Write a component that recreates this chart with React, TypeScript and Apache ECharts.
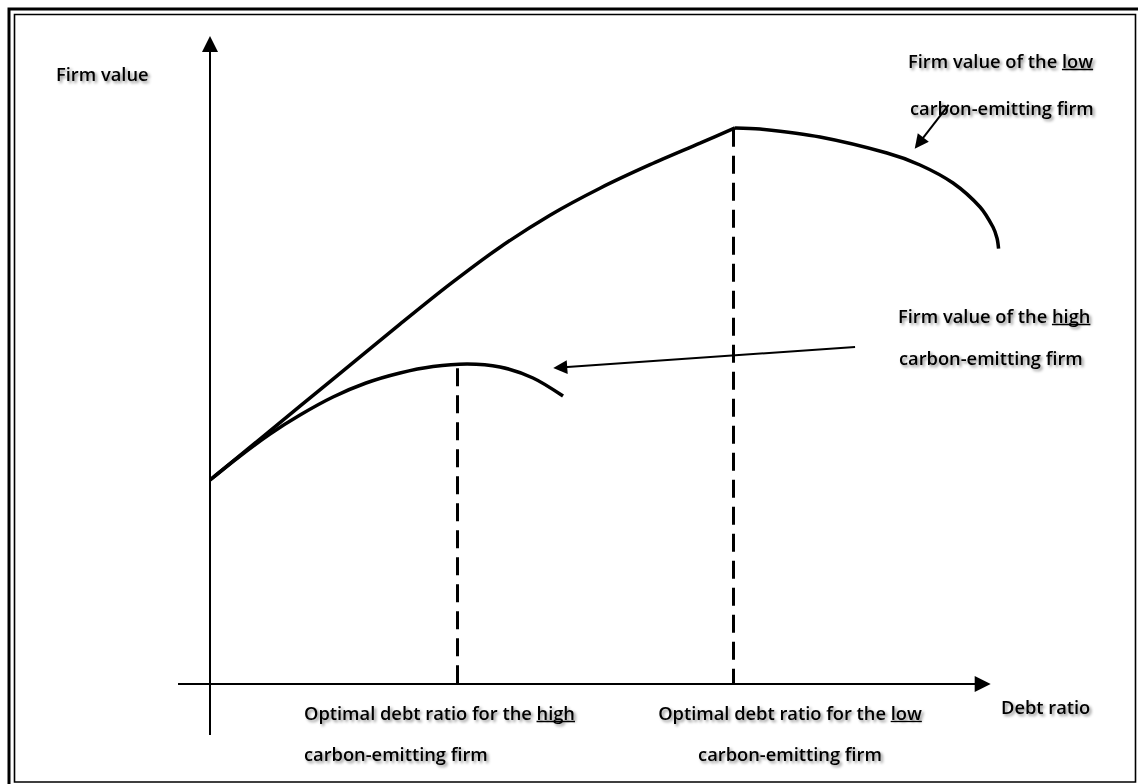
import React, { useEffect, useRef } from "react";
import * as echarts from "echarts";

// ---- data (debt ratio 0..100, firm value 0..100, conceptual units) ----
const lowRisingDebt = [0, 7.69, 15.38, 24.36, 30.77, 37.18, 43.59, 50.0, 56.41, 62.82, 67.31];
const lowRisingValue = [31.53, 39.13, 46.74, 55.61, 61.79, 67.51, 72.46, 76.63, 80.26, 83.59, 85.94];
const lowFallingDebt = [67.31, 70.51, 78.21, 86.79, 91.03, 95.26, 98.72, 100.38, 100.9, 101.1];
const lowFallingValue = [85.94, 85.78, 84.54, 82.07, 80.22, 77.43, 73.72, 70.63, 68.9, 67.3];
const highDebt = [0, 3.85, 7.69, 11.54, 15.77, 20.0, 24.36, 28.59, 32.95, 37.18, 41.41, 45.26];
const highValue = [31.53, 35.24, 38.64, 41.58, 44.36, 46.52, 48.07, 49.07, 49.46, 49.0, 47.3, 44.51];

const optimalHighDebt = 31.67;
const optimalHighTop = 48.8;
const optimalLowDebt = 67.1;
const optimalLowTop = 85.8;

const yAxisFrom = [0, -7.9];
const yAxisTo = [0, 98.9];
const xAxisFrom = [-4.1, 0];
const xAxisTo = [99.06, 0];

const highArrowFrom = [82.7, 52.1];
const highArrowTo = [44.9, 48.9];
const lowArrowFrom = [94.7, 89.5];
const lowArrowTo = [90.9, 83.6];

const X_MAX = 102;
const FAMILY = `"Open Sans", Lato, sans-serif`;
const WEIGHT = 600;
const TARGET_W = 184; // width of "carbon-emitting firm"

function zip(xs: number[], ys: number[]) {
  return xs.map((x, i) => [x, ys[i]]);
}

let ctx: CanvasRenderingContext2D | null = null;
function measure(text: string, font: string) {
  if (!ctx) ctx = document.createElement("canvas").getContext("2d");
  ctx!.font = font;
  return ctx!.measureText(text).width;
}

export default function App() {
  const ref = useRef<HTMLDivElement>(null);

  useEffect(() => {
    if (!ref.current) return;
    document.body.style.margin = "0";
    const chart = echarts.init(ref.current, undefined, { renderer: "svg" });

    const w17 = measure("carbon-emitting firm", `${WEIGHT} 17px ${FAMILY}`);
    const fs = Math.round(((17 * TARGET_W) / w17) * 10) / 10;
    const FONT = `${WEIGHT} ${fs}px ${FAMILY}`;

    const textStyleBase = {
      font: FONT,
      fill: "#000",
      textShadowColor: "rgba(0,0,0,0.45)",
      textShadowBlur: 3,
      textShadowOffsetX: 2,
      textShadowOffsetY: 2,
      verticalAlign: "middle",
    };

    const label = (x: number, y: number, prefix: string, word = "", center = false) => {
      const els: any[] = [];
      const full = prefix + word;
      const total = measure(full, FONT);
      const left = center ? x - total / 2 : x;
      els.push({
        type: "text",
        x: left,
        y,
        silent: true,
        style: { ...textStyleBase, text: full, align: "left" },
      });
      if (word) {
        const w1 = measure(prefix, FONT);
        const w2 = measure(word, FONT);
        els.push({
          type: "line",
          silent: true,
          shape: { x1: left + w1, y1: y + 9.5, x2: left + w1 + w2, y2: y + 9.5 },
          style: { stroke: "#000", lineWidth: 1.3 },
        });
      }
      return els;
    };

    const graphics: any[] = [
      {
        type: "rect",
        silent: true,
        shape: { x: 9, y: 9, width: 1145, height: 795 },
        style: { fill: "none", stroke: "#000", lineWidth: 3 },
      },
      {
        type: "rect",
        silent: true,
        shape: { x: 14.5, y: 14.5, width: 1121, height: 767.5 },
        style: { fill: "none", stroke: "#000", lineWidth: 1.6 },
      },
      ...label(56, 73, "Firm value"),
      ...label(908, 60, "Firm value of the ", "low"),
      ...label(910, 107, "carbon-emitting firm"),
      ...label(898, 315, "Firm value of the ", "high"),
      ...label(899, 357, "carbon-emitting firm"),
      ...label(304, 712, "Optimal debt ratio for the ", "high"),
      ...label(304, 753, "carbon-emitting firm"),
      ...label(790, 712, "Optimal debt ratio for the ", "low", true),
      ...label(790, 753, "carbon-emitting firm", "", true),
      ...label(1001, 706, "Debt ratio"),
    ];

    const curveStyle = { color: "#000", width: 3.5 };
    // 7.8 px per debt-ratio unit, starting at x = 210
    const gridRight = 1138 - 210 - X_MAX * 7.8;

    chart.setOption({
      animation: false,
      grid: { left: 210, top: 37, right: gridRight, bottom: 100 },
      xAxis: { type: "value", min: 0, max: X_MAX, show: false },
      yAxis: { type: "value", min: 0, max: 100, show: false },
      tooltip: { show: false },
      series: [
        {
          type: "line",
          name: "Low rising",
          data: zip(lowRisingDebt, lowRisingValue),
          smooth: 0.3,
          showSymbol: false,
          clip: false,
          silent: true,
          lineStyle: curveStyle,
        },
        {
          type: "line",
          name: "Low falling",
          data: zip(lowFallingDebt, lowFallingValue),
          smooth: 0.3,
          showSymbol: false,
          clip: false,
          silent: true,
          lineStyle: curveStyle,
        },
        {
          type: "line",
          name: "High",
          data: zip(highDebt, highValue),
          smooth: 0.3,
          showSymbol: false,
          clip: false,
          silent: true,
          lineStyle: curveStyle,
        },
        {
          type: "lines",
          name: "Optimal",
          coordinateSystem: "cartesian2d",
          clip: false,
          silent: true,
          symbol: ["none", "none"],
          lineStyle: { color: "#000", width: 3, type: [18, 9], opacity: 1 },
          data: [
            { coords: [[optimalHighDebt, optimalHighTop], [optimalHighDebt, 0]] },
            { coords: [[optimalLowDebt, optimalLowTop], [optimalLowDebt, 0]] },
          ],
        },
        {
          type: "lines",
          name: "Axes",
          coordinateSystem: "cartesian2d",
          clip: false,
          silent: true,
          symbol: ["none", "triangle"],
          symbolSize: 16,
          lineStyle: { color: "#000", width: 2, type: "solid", opacity: 1 },
          itemStyle: { color: "#000" },
          data: [{ coords: [yAxisFrom, yAxisTo] }, { coords: [xAxisFrom, xAxisTo] }],
        },
        {
          type: "lines",
          name: "Pointers",
          coordinateSystem: "cartesian2d",
          clip: false,
          silent: true,
          symbol: ["none", "triangle"],
          symbolSize: 14,
          lineStyle: { color: "#000", width: 2, type: "solid", opacity: 1 },
          itemStyle: { color: "#000" },
          data: [
            { coords: [highArrowFrom, highArrowTo] },
            { coords: [lowArrowFrom, lowArrowTo] },
          ],
        },
      ],
      graphic: graphics,
    });

    return () => chart.dispose();
  }, []);

  return (
    <div style={{ position: "fixed", left: 0, top: 0 }}>
      <div ref={ref} style={{ width: 1138, height: 784, background: "#fff" }} />
    </div>
  );
}
